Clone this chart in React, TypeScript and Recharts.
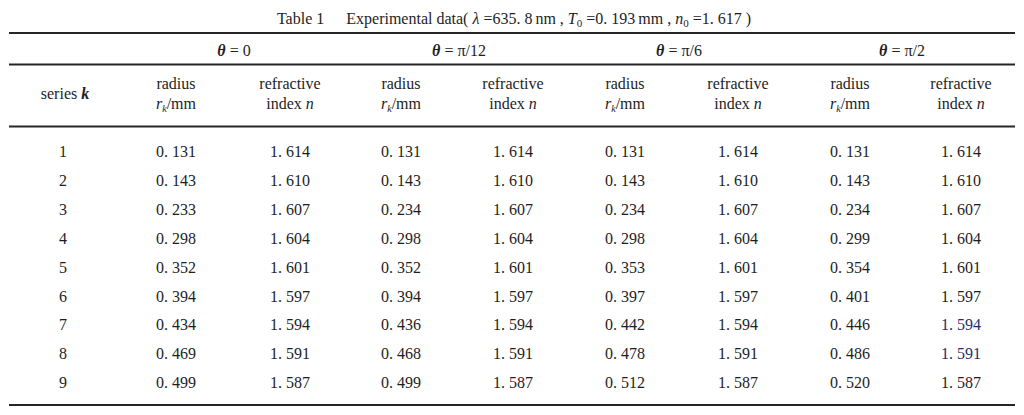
import React from "react";
import { ScatterChart, Scatter, XAxis, YAxis, ReferenceLine } from "recharts";

// ---------- data ----------
const seriesK = [1, 2, 3, 4, 5, 6, 7, 8, 9];
const groupLabels = ["0", "π/12", "π/6", "π/2"];
const radiusTheta0 = [0.131, 0.143, 0.233, 0.298, 0.352, 0.394, 0.434, 0.469, 0.499];
const indexTheta0 = [1.614, 1.61, 1.607, 1.604, 1.601, 1.597, 1.594, 1.591, 1.587];
const radiusThetaPi12 = [0.131, 0.143, 0.234, 0.298, 0.352, 0.394, 0.436, 0.468, 0.499];
const indexThetaPi12 = [1.614, 1.61, 1.607, 1.604, 1.601, 1.597, 1.594, 1.591, 1.587];
const radiusThetaPi6 = [0.131, 0.143, 0.234, 0.298, 0.353, 0.397, 0.442, 0.478, 0.512];
const indexThetaPi6 = [1.614, 1.61, 1.607, 1.604, 1.601, 1.597, 1.594, 1.591, 1.587];
const radiusThetaPi2 = [0.131, 0.143, 0.234, 0.299, 0.354, 0.401, 0.446, 0.486, 0.52];
const indexThetaPi2 = [1.614, 1.61, 1.607, 1.604, 1.601, 1.597, 1.594, 1.591, 1.587];

// ---------- layout ----------
const W = 1024;
const H = 415;
const FONT = "'Liberation Serif', 'Times New Roman', serif";
const INK = "#1e1e1e";
const COL_X = [63, 176, 290, 401, 513, 625, 738, 850, 961];
const GROUP_X = [234, 459, 679, 902];
const ROW0 = 157;
const ROW_STEP = 28.9;
const rowY = (i: number) => ROW0 + i * ROW_STEP;

const fmt = (v: number) => v.toFixed(3).replace(".", ". ");

const valueColumns = [
  radiusTheta0, indexTheta0,
  radiusThetaPi12, indexThetaPi12,
  radiusThetaPi6, indexThetaPi6,
  radiusThetaPi2, indexThetaPi2,
];

type Cell = { x: number; y: number; label: string; color?: string };

const kCells: Cell[] = seriesK.map((k, i) => ({ x: COL_X[0], y: rowY(i), label: String(k) }));
const dataColumns: Cell[][] = valueColumns.map((col, c) =>
  col.map((v, i) => ({
    x: COL_X[c + 1],
    y: rowY(i),
    label: fmt(v),
    color: c === 7 && (i === 6 || i === 7) ? "#1f2f6a" : undefined,
  }))
);

const titleCell = [{ x: 514, y: 24, kind: "title" }];
const groupCells = groupLabels.map((g, i) => ({ x: GROUP_X[i], y: 56, label: g }));
const headerCells = [
  { x: COL_X[0] + 2, y: 99, kind: "series" },
  ...[0, 1, 2, 3].flatMap((g) => [
    { x: COL_X[1 + g * 2], y: 89, kind: "radius" },
    { x: COL_X[2 + g * 2], y: 89, kind: "index" },
  ]),
];

const TextShape = (props: any) => {
  const { cx, cy, payload } = props;
  return (
    <text x={cx} y={cy} textAnchor="middle" fontFamily={FONT} fontSize={16} fill={payload.color || INK}>
      {payload.label}
    </text>
  );
};

const TitleShape = (props: any) => {
  const { cx, cy } = props;
  return (
    <text x={cx} y={cy} textAnchor="middle" fontFamily={FONT} fontSize={16} fill={INK}>
      <tspan>Table 1</tspan>
      <tspan dx={22}>Experimental data( </tspan>
      <tspan fontStyle="italic">λ</tspan>
      <tspan> =635. 8</tspan>
      <tspan dx={3}>nm , </tspan>
      <tspan fontStyle="italic">T</tspan>
      <tspan dy={3} fontSize={11}>0</tspan>
      <tspan dy={-3}> =0. 193</tspan>
      <tspan dx={3}>mm , </tspan>
      <tspan fontStyle="italic">n</tspan>
      <tspan dy={3} fontSize={11}>0</tspan>
      <tspan dy={-3}> =1. 617 )</tspan>
    </text>
  );
};

const GroupShape = (props: any) => {
  const { cx, cy, payload } = props;
  return (
    <text x={cx} y={cy} textAnchor="middle" fontFamily={FONT} fontSize={16} fill={INK}>
      <tspan fontStyle="italic" fontWeight="bold">θ</tspan>
      <tspan> = {payload.label}</tspan>
    </text>
  );
};

const HeaderShape = (props: any) => {
  const { cx, cy, payload } = props;
  const common = { textAnchor: "middle" as const, fontFamily: FONT, fontSize: 16, fill: INK };
  if (payload.kind === "series") {
    return (
      <text x={cx} y={cy} {...common}>
        <tspan>series </tspan>
        <tspan fontStyle="italic" fontWeight="bold">k</tspan>
      </text>
    );
  }
  if (payload.kind === "radius") {
    return (
      <g>
        <text x={cx} y={cy} {...common}>radius</text>
        <text x={cx} y={cy + 20} {...common}>
          <tspan fontStyle="italic">r</tspan>
          <tspan dy={3} fontSize={10} fontStyle="italic">k</tspan>
          <tspan dy={-3}>/mm</tspan>
        </text>
      </g>
    );
  }
  return (
    <g>
      <text x={cx} y={cy} {...common}>refractive</text>
      <text x={cx} y={cy + 20} {...common}>
        <tspan>index </tspan>
        <tspan fontStyle="italic">n</tspan>
      </text>
    </g>
  );
};

const rule = (y: number, w: number) => (
  <ReferenceLine
    key={"r" + y}
    segment={[{ x: 9, y }, { x: 1015, y }]}
    stroke="#262626"
    strokeWidth={w}
    ifOverflow="visible"
  />
);

export default function App() {
  return (
    <div style={{ position: "absolute", left: 0, top: 0, width: W, height: H, background: "#fff" }}>
      <ScatterChart width={W} height={H} margin={{ top: 0, right: 0, bottom: 0, left: 0 }}>
        <XAxis type="number" dataKey="x" domain={[0, W]} hide />
        <YAxis type="number" dataKey="y" domain={[0, H]} reversed hide />
        {rule(33, 2.2)}
        {rule(64.5, 1.8)}
        {rule(126.5, 1.8)}
        {rule(405, 2.2)}
        <Scatter data={titleCell} shape={TitleShape} isAnimationActive={false} />
        <Scatter data={groupCells} shape={GroupShape} isAnimationActive={false} />
        <Scatter data={headerCells} shape={HeaderShape} isAnimationActive={false} />
        <Scatter data={kCells} shape={TextShape} isAnimationActive={false} />
        {dataColumns.map((col, i) => (
          <Scatter key={i} data={col} shape={TextShape} isAnimationActive={false} />
        ))}
      </ScatterChart>
    </div>
  );
}
